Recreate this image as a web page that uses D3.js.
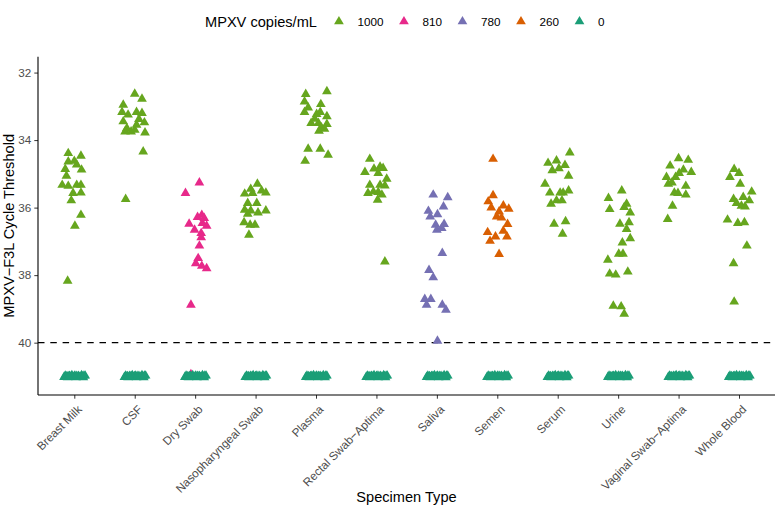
<!DOCTYPE html>
<html><head><meta charset="utf-8">
<script src="https://cdn.jsdelivr.net/npm/d3@7"></script>
<style>body{margin:0;background:#fff;} svg{display:block;font-family:"Liberation Sans",Arial,sans-serif;}</style>
</head><body><svg id="c" width="776" height="512"></svg>
<script>
const categories = ["Breast Milk","CSF","Dry Swab","Nasopharyngeal Swab","Plasma","Rectal Swab\u2212Aptima","Saliva","Semen","Serum","Urine","Vaginal Swab\u2212Aptima","Whole Blood"];
const legendLevels = ["1000","810","780","260","0"];
const categoryLevel = ["1000","1000","810","1000","1000","1000","780","260","1000","1000","1000","1000"];
const yTicks = [32,34,36,38,40];
const cutoffCt = 40;

const detectCt = [
 [34.39,34.47,34.64,34.62,34.73,34.86,34.88,35.06,35.33,35.36,35.33,35.33,35.57,35.56,35.79,36.22,36.54,38.17],
 [32.63,32.78,32.96,33.17,33.25,33.17,33.20,33.38,33.48,33.45,33.65,33.75,33.75,33.70,33.55,33.78,34.34,35.75],
 [35.26,35.57,36.22,36.28,36.31,36.48,36.46,36.54,36.66,36.76,36.88,37.13,37.50,37.65,37.73,37.80,38.88],
 [35.30,35.45,35.59,35.57,35.50,35.56,35.87,35.87,36.07,36.09,36.15,36.09,36.19,36.44,36.51,36.51,36.81],
 [32.56,32.64,32.86,33.04,32.94,33.17,33.23,33.17,33.30,33.37,33.50,33.50,33.53,33.63,33.67,33.73,34.26,34.26,34.44,34.62],
 [34.56,34.95,34.85,34.79,34.83,34.98,35.15,35.33,35.33,35.35,35.57,35.53,35.54,35.62,35.77,37.60],
 [35.62,35.70,35.97,36.10,36.20,36.27,36.49,36.51,36.66,36.61,37.35,37.85,38.07,38.71,38.71,38.88,38.88,39.03,39.95],
 [34.56,35.64,35.82,36.00,35.94,36.04,36.12,36.27,36.30,36.49,36.73,36.86,36.69,36.99,36.86,37.38],
 [34.37,34.68,34.61,34.74,34.90,34.84,35.06,35.30,35.56,35.56,35.56,35.50,35.89,35.79,35.79,36.48,36.41,36.78],
 [35.50,35.72,35.89,35.99,36.05,36.15,36.48,36.44,36.64,36.91,37.04,37.37,37.37,37.55,37.96,37.99,37.90,38.91,38.93,39.15],
 [34.54,34.59,34.76,34.88,34.95,34.98,35.10,35.10,35.26,35.30,35.36,35.56,35.57,35.62,35.95,36.34],
 [34.86,34.98,35.10,35.30,35.53,35.75,35.69,35.79,35.87,35.95,35.97,36.36,36.46,36.44,37.13,37.65,38.79]
];
const detectJitter = [
 [-0.10,0.11,-0.10,0.00,0.04,-0.15,0.12,-0.13,-0.20,-0.10,0.04,0.11,-0.02,0.11,-0.05,0.11,0.01,-0.11],
 [0.00,0.12,-0.19,-0.21,-0.11,0.03,0.12,0.07,0.16,-0.19,-0.13,-0.16,-0.06,0.00,0.03,0.17,0.14,-0.15],
 [0.07,-0.16,0.11,0.04,0.15,-0.10,0.12,0.19,-0.01,0.10,0.10,0.07,0.05,0.01,0.11,0.19,-0.07],
 [0.03,-0.08,-0.18,-0.05,0.10,0.17,-0.13,0.02,-0.18,-0.08,0.04,0.17,-0.13,-0.19,-0.09,-0.01,-0.11],
 [0.18,-0.17,-0.19,-0.13,0.08,-0.19,0.01,0.07,0.18,-0.02,-0.08,0.04,0.18,0.09,0.14,0.05,-0.13,0.07,0.20,-0.18],
 [-0.11,-0.19,-0.04,0.06,0.11,0.03,0.17,-0.11,0.06,0.14,-0.14,-0.05,0.03,0.09,0.02,0.14],
 [-0.06,0.18,0.11,-0.14,0.01,-0.11,0.12,-0.02,0.00,0.08,0.09,-0.13,-0.06,-0.20,-0.10,-0.17,0.09,0.15,0.01],
 [-0.07,-0.07,-0.15,-0.10,0.10,0.19,0.03,-0.01,0.07,0.17,-0.16,-0.03,0.10,-0.12,0.16,0.03],
 [0.20,-0.16,-0.02,0.12,-0.09,0.02,0.18,-0.21,-0.13,0.04,0.09,0.18,-0.11,-0.02,0.07,-0.06,0.13,0.08],
 [0.06,-0.16,0.14,0.10,-0.14,0.20,0.03,0.18,0.14,0.20,0.07,0.01,0.08,-0.17,-0.14,-0.04,0.16,-0.08,0.05,0.10],
 [0.00,0.16,-0.14,0.08,0.21,0.01,-0.20,-0.05,-0.11,-0.17,0.12,-0.07,-0.01,0.12,-0.10,-0.18],
 [-0.08,0.00,-0.15,0.02,0.21,-0.09,0.07,0.17,-0.04,0.04,0.10,-0.19,-0.02,0.09,0.13,-0.09,-0.08]
];
// hidden non-detect of the 810 series in Dry Swab
const extraPoints = [{cat:"Dry Swab", level:"810", ct:40.94, jit:-0.07}];
const nonDetectJitter = [-0.17,-0.15,-0.12,-0.11,-0.08,-0.07,-0.04,-0.02,0.00,0.01,0.03,0.06,0.07,0.09,0.12,0.13,0.15,0.18,-0.13,-0.05,0.04,0.10,-0.09,0.16];
const nonDetectCt = [41.02,40.98,41.00,41.03,40.99,41.01,40.97,41.02,41.00,40.98,41.03,41.01,40.99,41.02,40.97,41.00,41.03,40.98,41.01,41.00,40.99,41.02,41.00,40.98];

const color = d3.scaleOrdinal().domain(legendLevels).range(["#66A61E","#E7298A","#7570B3","#D95F02","#1B9E77"]);

(function(){
const svg = d3.select("#c");
const pL = 38, pR = 775, pT = 56.7, pB = 395;
const x = d3.scalePoint().domain(categories).range([74.3, 739.0]);
const step = x.step();
const y = d3.scaleLinear().domain([31.53, 41.55]).range([pT, pB]);

const tri = d3.symbol().type(d3.symbolTriangle).size(41);

const pts = [];
extraPoints.forEach(p => pts.push(p));
categories.forEach((c,i) => {
  detectCt[i].forEach((v,j) => pts.push({cat:c, level:categoryLevel[i], ct:v, jit:detectJitter[i][j]}));
});
categories.forEach((c,i) => {
  nonDetectJitter.forEach((jv,j) => pts.push({cat:c, level:"0", ct:nonDetectCt[j], jit:jv}));
});

svg.append("line").attr("x1",pL).attr("x2",pR).attr("y1",y(cutoffCt)).attr("y2",y(cutoffCt))
  .attr("stroke","#000").attr("stroke-width",1.2).attr("stroke-dasharray","6.5,5.8");

svg.append("g").selectAll("path").data(pts).join("path")
  .attr("d", tri)
  .attr("transform", d => `translate(${x(d.cat) + d.jit*step},${y(d.ct)})`)
  .attr("fill", d => color(d.level));

const gy = svg.append("g").attr("transform",`translate(${pL},0)`)
  .call(d3.axisLeft(y).tickValues(yTicks).tickSize(3.7).tickPadding(3));
gy.select(".domain").remove();
svg.append("line").attr("x1",pL).attr("x2",pL).attr("y1",pT).attr("y2",pB).attr("stroke","#000").attr("stroke-width",1.1);
gy.selectAll(".tick line").attr("stroke","#333").attr("stroke-width",1);
gy.selectAll(".tick text").attr("fill","#4D4D4D").style("font-size","11.7px").style("font-family","Liberation Sans, Arial, sans-serif");

const gx = svg.append("g").attr("transform",`translate(0,${pB})`)
  .call(d3.axisBottom(x).tickSize(3.7).tickPadding(3));
gx.select(".domain").remove();
svg.append("line").attr("x1",pL).attr("x2",pR).attr("y1",pB).attr("y2",pB).attr("stroke","#000").attr("stroke-width",1.1);
gx.selectAll(".tick line").attr("stroke","#333").attr("stroke-width",1);
gx.selectAll(".tick text")
  .attr("fill","#4D4D4D").style("font-size","11.7px").style("font-family","Liberation Sans, Arial, sans-serif")
  .attr("text-anchor","end").attr("dy",null).attr("y",0)
  .attr("transform","translate(1.5,9) rotate(-45)")
  .attr("dominant-baseline","hanging");

svg.append("text").attr("x",(pL+pR)/2).attr("y",502).attr("text-anchor","middle")
  .style("font-size","14.6px").attr("fill","#000").text("Specimen Type");
svg.append("text").attr("transform",`translate(14,${(pT+pB)/2}) rotate(-90)`).attr("text-anchor","middle")
  .style("font-size","14.6px").attr("fill","#000").text("MPXV\u2212F3L Cycle Threshold");

const lg = svg.append("g");
const lt = lg.append("text").attr("x",205).attr("y",26.5).style("font-size","14.6px").attr("fill","#000").text("MPXV copies/mL");
let cx = 205 + lt.node().getComputedTextLength() + 22;
legendLevels.forEach(l => {
  lg.append("path").attr("d",tri).attr("transform",`translate(${cx},${21.5})`).attr("fill",color(l));
  const t = lg.append("text").attr("x",cx+18.5).attr("y",25.5).style("font-size","11.7px").attr("fill","#000").text(l);
  cx = cx + 18.5 + t.node().getComputedTextLength() + 20.5;
});
})();
</script></body></html>
